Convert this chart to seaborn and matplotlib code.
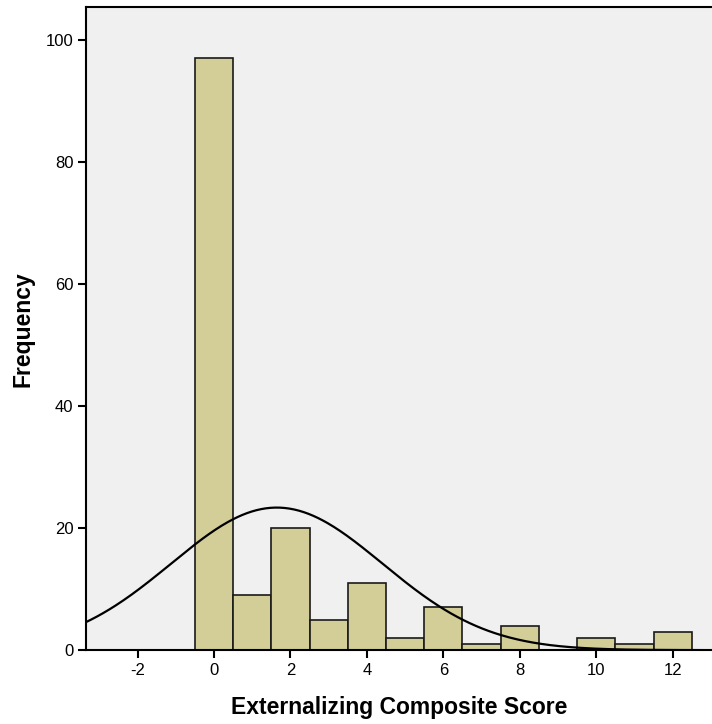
import numpy as np
import pandas as pd
import matplotlib
matplotlib.use("Agg")
import matplotlib.pyplot as plt
import seaborn as sns

# Externalizing composite score histogram (bin width 1, centred on integers)
scores = [0, 1, 2, 3, 4, 5, 6, 7, 8, 9, 10, 11, 12]
counts = [97, 9, 20, 5, 11, 2, 7, 1, 4, 0, 2, 1, 3]
x_ticks = [-2, 0, 2, 4, 6, 8, 10, 12]
y_ticks = [0, 20, 40, 60, 80, 100]

BAR_COLOR = "#d3ce98"
BG_COLOR = "#f0f0f0"


def main():
    sns.set_style("ticks")
    plt.rcParams["font.family"] = ["Liberation Sans", "DejaVu Sans"]
    plt.rcParams["axes.unicode_minus"] = False
    plt.rcParams["text.color"] = "black"
    plt.rcParams["axes.labelcolor"] = "black"
    plt.rcParams["xtick.color"] = "black"
    plt.rcParams["ytick.color"] = "black"

    df = pd.DataFrame({"score": scores, "count": counts})

    fig = plt.figure(figsize=(7.12, 7.24), dpi=100)
    ax = fig.add_axes([0.1208, 0.102, 0.8792, 0.888])
    ax.set_facecolor(BG_COLOR)

    sns.histplot(
        data=df, x="score", weights="count", discrete=True,
        color=BAR_COLOR, edgecolor="#1a1a1a", linewidth=1.2, alpha=1, ax=ax,
    )

    # normal curve from the sample mean / sd, scaled to frequency
    n = df["count"].sum()
    mean = (df["score"] * df["count"]).sum() / n
    var = ((df["score"] - mean) ** 2 * df["count"]).sum() / (n - 1)
    sd = np.sqrt(var)
    xs = np.linspace(-3.4, 13.1, 400)
    ys = n * 1.0 / (sd * np.sqrt(2 * np.pi)) * np.exp(-0.5 * ((xs - mean) / sd) ** 2)
    sns.lineplot(x=xs, y=ys, color="black", linewidth=1.6, ax=ax)

    ax.set_xlim(-3.35, 13.03)
    ax.set_ylim(0, 105.3)
    ax.set_xticks(x_ticks)
    ax.set_yticks(y_ticks)
    ax.tick_params(axis="both", direction="out", length=6, width=1.5,
                   labelsize=12, colors="black", pad=3)
    for side in ["left", "bottom", "top"]:
        ax.spines[side].set_linewidth(1.5)
        ax.spines[side].set_color("black")
    ax.spines["top"].set_visible(True)
    ax.spines["right"].set_visible(False)

    ax.set_xlabel("Externalizing Composite Score", fontsize=16.5, fontweight="bold",
                  labelpad=13, color="black")
    ax.set_ylabel("Frequency", fontsize=16.5, fontweight="bold", labelpad=8, color="black")

    fig.savefig("out.png", dpi=100)
    plt.close(fig)


if __name__ == "__main__":
    main()
